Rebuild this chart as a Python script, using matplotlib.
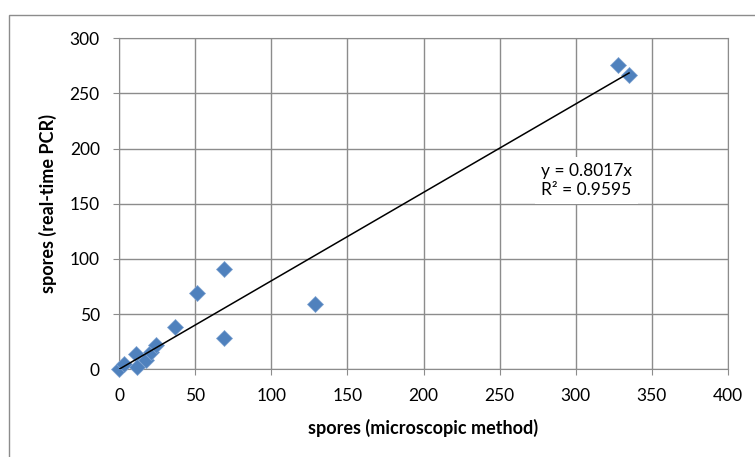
import matplotlib
matplotlib.use("Agg")
import matplotlib.pyplot as plt
from matplotlib.patches import Rectangle

plt.rcParams['font.family'] = ['Lato', 'DejaVu Sans']

# spores counted by microscope vs. real-time PCR
microscopic = [0, 3, 11, 12, 18, 21, 24, 37, 51, 69, 69, 129, 328, 335]
pcr = [0, 5, 14, 2, 8, 16, 22, 38, 69, 91, 28, 59, 276, 267]
slope = 0.8017
r_squared = 0.9595

fig = plt.figure(figsize=(7.55, 4.57), dpi=100)
ax = fig.add_axes([119 / 755, 1 - 369.3 / 457, (728 - 119) / 755, (369.3 - 38.3) / 457])

grid_color = '#8c8c8c'
ax.set_xlim(0, 400)
ax.set_ylim(0, 300)
ax.set_xticks(range(0, 401, 50))
ax.set_yticks(range(0, 301, 50))
ax.grid(True, color=grid_color, linewidth=1.0)
ax.set_axisbelow(True)
for side in ['left', 'bottom', 'right', 'top']:
    ax.spines[side].set_color(grid_color)
ax.tick_params(direction='out', length=4.3, color=grid_color, labelsize=12.5, pad=9.5)

ax.plot(microscopic, pcr, linestyle='none', marker='D', markersize=8.3,
        color='#4f81bd', markeredgecolor='#7fa3d1', markeredgewidth=0.5,
        zorder=3, clip_on=False)

x_end = max(microscopic)
ax.plot([0, x_end], [0, slope * x_end], color='black', linewidth=1.1, zorder=4)

ax.text(307, 171, 'y = %.4fx\nR² = %.4f' % (slope, r_squared), ha='center', va='center',
        fontsize=12.5, linespacing=1.25, zorder=5,
        bbox=dict(facecolor='white', edgecolor='none', boxstyle='square,pad=0.35'))

ax.set_xlabel('spores (microscopic method)', fontsize=13, fontweight='bold')
ax.set_ylabel('spores (real-time PCR)', fontsize=13, fontweight='bold')
ax.xaxis.set_label_coords(0.5, (369.3 - 428) / 331, transform=ax.transAxes)
ax.yaxis.set_label_coords((48 - 119) / 609, 0.5, transform=ax.transAxes)
ax.xaxis.label.set_va('center')
ax.yaxis.label.set_va('center')

# chart area border, cropped at right and bottom
fig.patches.append(Rectangle((9 / 755, -0.1), 1.2, 1 - 15 / 457 + 0.1, transform=fig.transFigure,
                             fill=False, edgecolor='#8c8c8c', linewidth=1.0))

fig.savefig('out.png', dpi=100)
